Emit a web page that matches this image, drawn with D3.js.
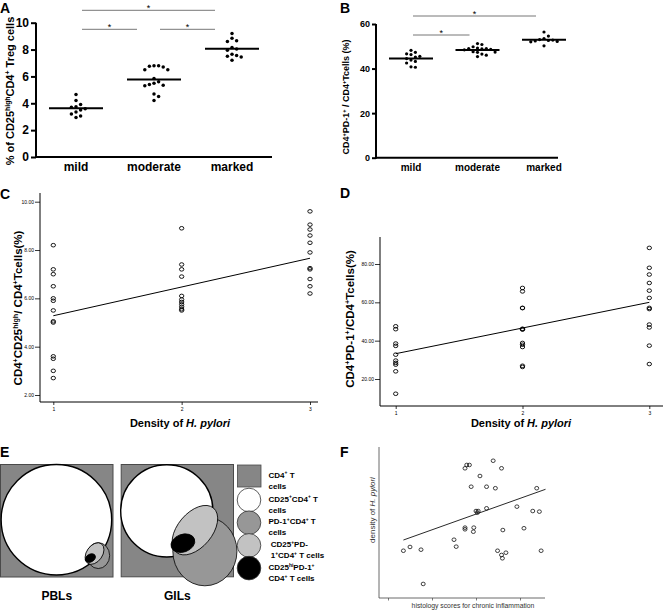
<!DOCTYPE html>
<html><head><meta charset="utf-8">
<script src="https://cdn.jsdelivr.net/npm/d3@7/dist/d3.min.js"></script>
<style>
body{margin:0;background:#fff}
svg{display:block;font-family:"Liberation Sans",Arial,Helvetica,sans-serif}
text{white-space:pre}
</style>
</head><body>
<svg id="c" width="664" height="610"></svg>
<script>
// ---------------- DATA ----------------
const groups = ["mild", "moderate", "marked"];
// Panel A: % of CD25high CD4+ Treg cells
const tregMild = [4.65, 4.2, 3.9, 3.75, 3.7, 3.6, 3.5, 3.35, 3.2, 3.05, 2.95];
const tregModerate = [6.8, 6.8, 6.75, 6.7, 6.5, 6.5, 5.85, 5.6, 5.5, 5.4, 5.35, 5.3, 4.7, 4.5, 4.2];
const tregMarked = [9.2, 8.85, 8.65, 8.6, 8.15, 8.05, 7.95, 7.65, 7.55, 7.5, 7.45, 7.2];
const tregTicks = [0, 2, 4, 6, 8, 10];
const tregSig = [["mild", "moderate", 0], ["moderate", "marked", 0], ["mild", "marked", 1]];
// Panel B: CD4+PD-1+ / CD4+ T cells (%)
const pd1Mild = [48.2, 47.3, 46.6, 46.3, 45.5, 45.2, 44.5, 43.8, 43.2, 42.5, 40.8, 40.6];
const pd1Moderate = [51.2, 50.8, 49.8, 49.2, 49.0, 49.0, 48.8, 48.6, 48.4, 47.6, 47.4, 47.3, 46.5, 46.0, 45.4];
const pd1Marked = [56.4, 54.6, 53.5, 53.0, 52.8, 52.6, 52.4, 52.2, 52.0, 50.2];
const pd1Ticks = [0, 20, 40, 60];
const pd1Sig = [["mild", "moderate", 0], ["mild", "marked", 1]];
// Panel C: CD4+CD25high / CD4+ T cells (%) vs density of H. pylori
const densityLevels = [1, 2, 3];
const cDensity1 = [8.2, 7.2, 7.0, 6.5, 6.0, 5.9, 5.5, 5.05, 5.0, 3.6, 3.5, 3.0, 2.7];
const cDensity2 = [8.9, 7.4, 7.2, 6.9, 6.1, 5.95, 5.85, 5.75, 5.65, 5.55, 5.5];
const cDensity3 = [9.6, 9.05, 8.85, 8.6, 8.3, 7.9, 7.25, 7.2, 6.8, 6.5, 6.2];
const cTicks = [2, 4, 6, 8, 10];
const cFit = [5.28, 7.66];           // fitted value at density 1 and 3
// Panel D: CD4+PD-1+ / CD4+ T cells (%) vs density
const dDensity1 = [47.5, 46.0, 38.5, 37.3, 32.7, 29.6, 28.4, 27.5, 24.0, 12.3];
const dDensity2 = [67.5, 65.7, 57.1, 57.0, 46.2, 46.0, 45.8, 38.8, 37.9, 36.7, 26.9, 26.3];
const dDensity3 = [88.4, 78.0, 74.5, 70.1, 66.1, 62.3, 57.1, 56.5, 48.4, 46.9, 37.4, 27.8];
const dTicks = [20, 40, 60, 80];
const dFit = [33.2, 60.0];
// Panel F: histology score vs density of H. pylori
const fHistology = [1.35, 1.50, 1.75, 1.80, 2.50, 2.55, 2.75, 2.79, 2.85, 2.89, 2.75, 2.75, 2.95, 2.94, 3.00, 3.05, 3.03, 3.09, 3.24, 3.24, 3.39, 3.44, 3.49, 3.58, 3.61, 3.58, 3.60, 3.68, 3.93, 4.09, 4.29, 4.38, 4.44, 4.48];
const fDensity   = [3.11, 3.36, 3.18, 0.91, 3.84, 3.38, 8.57, 8.79, 8.79, 7.35, 4.64, 4.53, 4.64, 4.37, 5.74, 5.74, 5.63, 8.06, 7.35, 5.92, 9.07, 7.25, 3.11, 8.57, 4.48, 2.83, 2.61, 2.98, 6.03, 4.60, 5.74, 7.25, 5.70, 3.11];
const fTicks = [1, 2, 3, 4];
const fFitX = [1.35, 4.58];
const fFitY = [3.82, 7.18];
// Panel E: Euler diagrams (unit-square coordinates)
const eulerSets = ["CD4^+^ T\ncells", "CD25^+^CD4^+^ T\ncells", "PD-1^+^CD4^+^ T\ncells", " CD25^+^PD-\n 1^+^CD4^+^ T cells", "CD25^hi^PD-1^+^\nCD4^+^ T cells"];
const eulerColors = ["#868686", "#ffffff", "#979797", "#c2c2c2", "#000000"];
const eulerPBL = [
  {set: 1, cx: 0.497, cy: 0.491, rx: 0.487, ry: 0.487, rot: 0},
  {set: 2, cx: 0.866, cy: 0.807, rx: 0.100, ry: 0.114, rot: 0},
  {set: 3, cx: 0.833, cy: 0.789, rx: 0.105, ry: 0.070, rot: -55},
  {set: 4, cx: 0.796, cy: 0.829, rx: 0.048, ry: 0.034, rot: -30}
];
const eulerGIL = [
  {set: 1, cx: 0.407, cy: 0.414, rx: 0.407, ry: 0.407, rot: 0},
  {set: 2, cx: 0.743, cy: 0.770, rx: 0.283, ry: 0.305, rot: 0},
  {set: 3, cx: 0.655, cy: 0.584, rx: 0.255, ry: 0.152, rot: -50},
  {set: 4, cx: 0.549, cy: 0.699, rx: 0.108, ry: 0.078, rot: -20}
];
const eulerPanels = ["PBLs", "GILs"];

// ---------------- HELPERS ----------------
const svg = d3.select("#c");
function rich(t, str, size) {
  const parts = str.split(/(\^[^\^]*\^|_[^_]*_)/).filter(s => s.length);
  let raised = false;
  parts.forEach(p => {
    const s = t.append("tspan");
    if (p[0] === "^") {
      s.text(p.slice(1, -1)).attr("font-size", size * 0.62).attr("dy", -size * 0.38);
      raised = true;
    } else {
      if (raised) { s.attr("dy", size * 0.38); raised = false; }
      if (p[0] === "_") s.text(p.slice(1, -1)).attr("font-style", "italic");
      else s.text(p);
    }
  });
  return t;
}
function label(x, y, str, size, opts = {}) {
  const t = svg.append("text").attr("x", x).attr("y", y)
    .attr("font-size", size).attr("font-weight", opts.weight || "bold")
    .attr("fill", opts.fill || "#000")
    .attr("text-anchor", opts.anchor || "start");
  if (opts.rotate) t.attr("transform", `rotate(-90,${x},${y})`);
  return rich(t, str, size);
}
function swarm(values, y, cx, dist, step) {
  const placed = [];
  [...values].sort((a, b) => b - a).forEach(v => {
    const py = y(v);
    for (let k = 0; k < 40; k++) {
      const off = (k % 2 ? 1 : -1) * Math.ceil(k / 2) * step;
      const px = cx + off;
      if (placed.every(p => (p.x - px) ** 2 + (p.y - py) ** 2 >= dist * dist)) {
        placed.push({x: px, y: py, v}); break;
      }
    }
  });
  return placed;
}
function styleAxis(g, size, weight, sw, color) {
  g.select(".domain").remove();
  g.selectAll("line").attr("stroke", color || "#000").attr("stroke-width", sw);
  g.selectAll("text").attr("font-size", size).attr("font-weight", weight)
    .attr("font-family", "Liberation Sans, Arial, sans-serif").attr("fill", "#000");
}

// ---------------- PANEL A ----------------
(function () {
  const x = d3.scalePoint().domain(groups).range([76, 232]);
  const y = d3.scaleLinear().domain([0, 10]).range([157, 22.7]);
  const series = [tregMild, tregModerate, tregMarked];
  const ga = svg.append("g").attr("transform", "translate(36,0)")
    .call(d3.axisLeft(y).tickValues(tregTicks).tickSize(5).tickSizeOuter(0).tickPadding(2));
  styleAxis(ga, 12, "bold", 2);
  svg.append("line").attr("x1", 36).attr("x2", 36).attr("y1", y(10)).attr("y2", y(0) + 1).attr("stroke", "#000").attr("stroke-width", 2);
  svg.append("line").attr("x1", 35).attr("x2", 272).attr("y1", y(0)).attr("y2", y(0)).attr("stroke", "#000").attr("stroke-width", 2);
  groups.forEach((g, i) => {
    svg.append("text").attr("x", x(g)).attr("y", 171).attr("text-anchor", "middle")
      .attr("font-size", 12).attr("font-weight", "bold").text(g);
    swarm(series[i], y, x(g), 4.3, 4.6).forEach(p =>
      svg.append("circle").attr("cx", p.x).attr("cy", p.y).attr("r", 1.75).attr("fill", "#000"));
    const m = d3.mean(series[i]);
    svg.append("line").attr("x1", x(g) - 27).attr("x2", x(g) + 27).attr("y1", y(m)).attr("y2", y(m))
      .attr("stroke", "#000").attr("stroke-width", 2);
  });
  tregSig.forEach(([a, b, row]) => {
    const yy = y(10) + 6.6 - row * 19;
    const x1 = x(a) + 6, x2 = x(b) - 17;
    svg.append("line").attr("x1", x1).attr("x2", x2).attr("y1", yy).attr("y2", yy).attr("stroke", "#777").attr("stroke-width", 1);
    svg.append("text").attr("x", (x1 + x2) / 2).attr("y", yy + 1).attr("text-anchor", "middle").attr("font-size", 9).text("*");
  });
  label(14, 91, "% of CD25^high^CD4^+^ Treg cells", 11, {rotate: true, anchor: "middle"});
  label(0, 13, "A", 14);
})();

// ---------------- PANEL B ----------------
(function () {
  const x = d3.scalePoint().domain(groups).range([411, 544]);
  const y = d3.scaleLinear().domain([0, 60]).range([157.7, 24]);
  const series = [pd1Mild, pd1Moderate, pd1Marked];
  const ga = svg.append("g").attr("transform", "translate(376,0)")
    .call(d3.axisLeft(y).tickValues(pd1Ticks).tickSize(4).tickSizeOuter(0).tickPadding(2));
  styleAxis(ga, 9, "bold", 2);
  svg.append("line").attr("x1", 376).attr("x2", 376).attr("y1", y(60)).attr("y2", y(0) + 1).attr("stroke", "#000").attr("stroke-width", 2);
  svg.append("line").attr("x1", 375).attr("x2", 558).attr("y1", y(0)).attr("y2", y(0)).attr("stroke", "#000").attr("stroke-width", 2);
  groups.forEach((g, i) => {
    svg.append("text").attr("x", x(g)).attr("y", 171).attr("text-anchor", "middle")
      .attr("font-size", 10).attr("font-weight", "bold").text(g);
    swarm(series[i], y, x(g), 4.1, 4.4).forEach(p =>
      svg.append("circle").attr("cx", p.x).attr("cy", p.y).attr("r", 1.6).attr("fill", "#000"));
    const m = d3.mean(series[i]);
    svg.append("line").attr("x1", x(g) - 22).attr("x2", x(g) + 22).attr("y1", y(m)).attr("y2", y(m))
      .attr("stroke", "#000").attr("stroke-width", 2);
  });
  pd1Sig.forEach(([a, b, row]) => {
    const yy = y(60) + 11 - row * 19;
    const x1 = x(a) + 2, x2 = x(b) - 8;
    svg.append("line").attr("x1", x1).attr("x2", x2).attr("y1", yy).attr("y2", yy).attr("stroke", "#777").attr("stroke-width", 1);
    svg.append("text").attr("x", (x1 + x2) / 2).attr("y", yy + 1).attr("text-anchor", "middle").attr("font-size", 9).text("*");
  });
  label(349, 97, "CD4^+^PD-1^+^ / CD4^+^Tcells (%)", 9, {rotate: true, anchor: "middle"});
  label(340, 13, "B", 14);
})();

// ---------------- SCATTER (C, D) ----------------
function densityScatter(o) {
  const x = d3.scaleLinear().domain([1, 3]).range(o.xr);
  const y = d3.scaleLinear().domain(o.yd).range(o.yr);
  svg.append("line").attr("x1", o.ax).attr("x2", o.ax).attr("y1", o.top).attr("y2", o.base).attr("stroke", "#000").attr("stroke-width", 1);
  svg.append("line").attr("x1", o.ax).attr("x2", o.right).attr("y1", o.base).attr("y2", o.base).attr("stroke", "#000").attr("stroke-width", 1);
  const gy = svg.append("g").attr("transform", `translate(${o.ax},0)`)
    .call(d3.axisLeft(y).tickValues(o.ticks).tickFormat(d3.format(".2f")).tickSize(5).tickPadding(1));
  styleAxis(gy, 5, "normal", 0.8);
  const gx = svg.append("g").attr("transform", `translate(0,${o.base})`)
    .call(d3.axisBottom(x).tickValues(densityLevels).tickFormat(d3.format("d")).tickSize(3).tickPadding(2));
  styleAxis(gx, 5, "normal", 0.8);
  o.series.forEach((vals, i) => vals.forEach(v =>
    svg.append("ellipse").attr("cx", x(densityLevels[i])).attr("cy", y(v)).attr("rx", 2.2).attr("ry", 1.8)
      .attr("fill", "none").attr("stroke", "#000").attr("stroke-width", 0.9)));
  svg.append("line").attr("x1", x(1)).attr("y1", y(o.fit[0])).attr("x2", x(3)).attr("y2", y(o.fit[1]))
    .attr("stroke", "#000").attr("stroke-width", 1);
}
densityScatter({xr: [53.3, 310], yd: [2, 10], yr: [395, 201.7], ax: 40, top: 193, base: 402, right: 318,
  ticks: cTicks, series: [cDensity1, cDensity2, cDensity3], fit: cFit});
label(22, 308, "CD4^+^CD25^high^/ CD4^+^Tcells(%)", 11.5, {rotate: true, anchor: "middle"});
label(180, 427, "Density of _H. pylori_", 11, {anchor: "middle"});
label(0, 199, "C", 14);

densityScatter({xr: [395.7, 649.3], yd: [20, 80], yr: [379, 264], ax: 380, top: 237, base: 406, right: 663,
  ticks: dTicks, series: [dDensity1, dDensity2, dDensity3], fit: dFit});
label(354, 319, "CD4^+^PD-1^+^/CD4^+^Tcells(%)", 11.5, {rotate: true, anchor: "middle"});
label(521, 427, "Density of _H. pylori_", 11, {anchor: "middle"});
label(340, 198, "D", 14);

// ---------------- PANEL E ----------------
(function () {
  const squares = [{x0: 0, y0: 464, s: 113.5, shapes: eulerPBL}, {x0: 120.7, y0: 464, s: 113.3, shapes: eulerGIL}];
  squares.forEach((sq, i) => {
    const sx = d3.scaleLinear().domain([0, 1]).range([sq.x0, sq.x0 + sq.s]);
    const sy = d3.scaleLinear().domain([0, 1]).range([sq.y0, sq.y0 + sq.s]);
    svg.append("rect").attr("x", sx(0) + 0.5).attr("y", sy(0) + 0.5).attr("width", sq.s - 1).attr("height", sq.s - 1)
      .attr("fill", eulerColors[0]).attr("stroke", "#4a4a4a").attr("stroke-width", 1);
    sq.shapes.forEach(d => {
      svg.append("ellipse").attr("cx", sx(d.cx)).attr("cy", sy(d.cy))
        .attr("rx", sx(d.rx) - sx(0)).attr("ry", sy(d.ry) - sy(0))
        .attr("transform", `rotate(${d.rot},${sx(d.cx)},${sy(d.cy)})`)
        .attr("fill", eulerColors[d.set]).attr("stroke", "#000")
        .attr("stroke-width", d.set === 1 ? 1.4 : 0.8);
    });
    svg.append("text").attr("x", sx(0.5)).attr("y", 600).attr("text-anchor", "middle")
      .attr("font-size", 12).attr("font-weight", "bold").text(eulerPanels[i]);
  });
  // legend
  eulerSets.forEach((s, i) => {
    const yy = i === 0 ? 476 : 500 + (i - 1) * 22.7;
    if (i === 0) {
      svg.append("rect").attr("x", 237.5).attr("y", 465).attr("width", 23.5).attr("height", 22)
        .attr("fill", eulerColors[0]).attr("stroke", "#4a4a4a").attr("stroke-width", 0.8);
    } else {
      svg.append("circle").attr("cx", 249).attr("cy", yy).attr("r", 11.8)
        .attr("fill", eulerColors[i]).attr("stroke", "#333").attr("stroke-width", 0.8);
    }
    s.split("\n").forEach((line, j) => label(268.5, yy + 1.5 + j * 11, line, 8));
  });
  label(0, 457, "E", 14);
})();

// ---------------- PANEL F ----------------
(function () {
  const x = d3.scaleLinear().domain([1, 4]).range([388, 520]);
  const y = d3.scaleLinear().domain([0, 10]).range([597.7, 446.7]);
  svg.append("line").attr("x1", 379).attr("x2", 379).attr("y1", 447).attr("y2", 598).attr("stroke", "#444").attr("stroke-width", 0.8);
  svg.append("line").attr("x1", 379).attr("x2", 545).attr("y1", 598).attr("y2", 598).attr("stroke", "#444").attr("stroke-width", 0.8);
  const gx = svg.append("g").attr("transform", "translate(0,598)")
    .call(d3.axisBottom(x).tickValues(fTicks).tickFormat("").tickSize(2.5));
  styleAxis(gx, 5, "normal", 0.7, "#444");
  fHistology.forEach((h, i) =>
    svg.append("ellipse").attr("cx", x(h)).attr("cy", y(fDensity[i])).attr("rx", 2).attr("ry", 1.8)
      .attr("fill", "none").attr("stroke", "#111").attr("stroke-width", 0.8));
  svg.append("line").attr("x1", x(fFitX[0])).attr("y1", y(fFitY[0])).attr("x2", x(fFitX[1])).attr("y2", y(fFitY[1]))
    .attr("stroke", "#111").attr("stroke-width", 0.9);
  label(375, 510, "density of _H. pylori_", 8, {rotate: true, anchor: "middle", weight: "normal", fill: "#333"});
  label(473, 608, "histology scores for chronic inflammation", 6.8, {anchor: "middle", weight: "normal", fill: "#333"});
  label(340, 457, "F", 14);
})();
</script>
</body></html>
